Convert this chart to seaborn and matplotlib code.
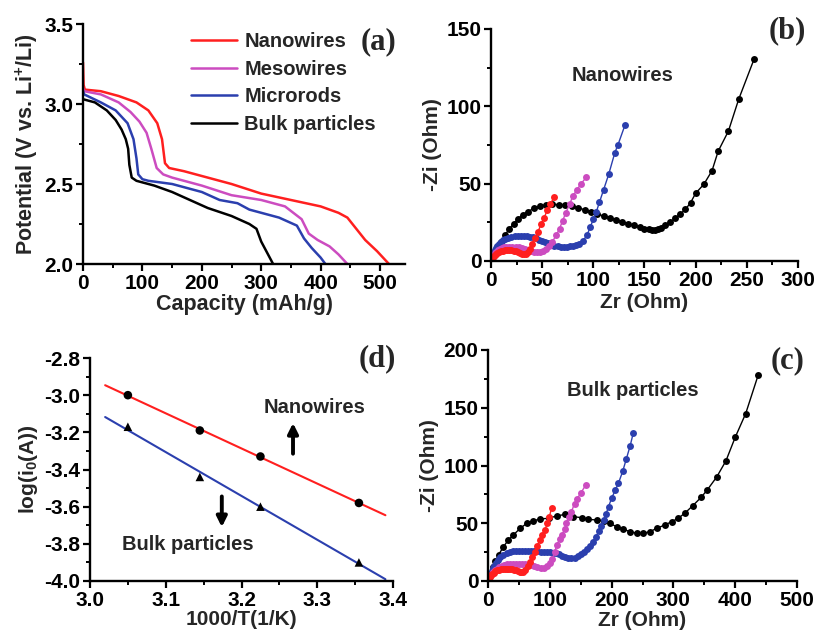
import numpy as np
import pandas as pd
import matplotlib
matplotlib.use("Agg")
import matplotlib.pyplot as plt
import seaborn as sns
from matplotlib.ticker import MultipleLocator

# ---------------- data ----------------
# (a) discharge curves
nano_cap = [0, 1, 3, 30, 60, 90, 110, 125, 133, 138, 145, 170, 200, 250, 300, 350, 400, 430, 445, 460, 475, 495, 515]
nano_v = [3.26, 3.12, 3.09, 3.08, 3.05, 3.01, 2.96, 2.88, 2.78, 2.63, 2.60, 2.58, 2.55, 2.50, 2.44, 2.40, 2.36, 2.32, 2.29, 2.22, 2.15, 2.08, 2.00]
meso_cap = [0, 2, 30, 60, 80, 95, 107, 115, 124, 135, 150, 200, 250, 300, 340, 368, 380, 395, 415, 430, 445]
meso_v = [3.10, 3.08, 3.06, 3.01, 2.95, 2.89, 2.82, 2.72, 2.60, 2.56, 2.54, 2.49, 2.43, 2.40, 2.36, 2.28, 2.19, 2.15, 2.11, 2.06, 2.00]
micro_cap = [0, 2, 30, 55, 75, 85, 90, 93, 100, 110, 150, 200, 230, 260, 280, 330, 360, 372, 385, 400, 408]
micro_v = [3.08, 3.06, 3.01, 2.96, 2.88, 2.78, 2.66, 2.56, 2.53, 2.52, 2.50, 2.45, 2.40, 2.38, 2.34, 2.29, 2.24, 2.16, 2.10, 2.04, 2.00]
bulk_cap = [0, 20, 40, 55, 65, 72, 76, 78, 82, 90, 120, 150, 180, 210, 250, 280, 292, 300, 310, 320]
bulk_v = [3.03, 3.01, 2.96, 2.90, 2.84, 2.78, 2.72, 2.62, 2.54, 2.52, 2.49, 2.45, 2.40, 2.35, 2.30, 2.25, 2.22, 2.14, 2.07, 2.00]
series_a = ["Nanowires", "Mesowires", "Microrods", "Bulk particles"]

# (b) Nyquist, nanowires electrode
b_red_zr = [1, 2, 3, 4, 5, 6, 8, 10, 12, 14, 16, 18, 20, 22, 24, 26, 28, 30, 32, 34, 36, 38, 40, 43, 46, 49, 52, 55, 58, 62]
b_red_zi = [1.5, 2.5, 3.5, 4.2, 4.8, 5.3, 6.0, 6.4, 6.7, 6.9, 7.0, 7.0, 6.9, 6.7, 6.3, 5.8, 5.2, 4.6, 4.3, 4.5, 5.5, 8, 11, 15, 19, 24, 28, 33, 37, 41.5]
b_mag_zr = [1, 2, 3, 4, 5, 7, 9, 11, 13, 15, 18, 21, 24, 27, 30, 33, 36, 39, 42, 45, 48, 51, 54, 57, 60, 64, 67, 70, 73, 77, 80, 84, 88, 93]
b_mag_zi = [1.5, 2.8, 4, 5, 5.8, 7, 7.8, 8.4, 8.8, 9.1, 9.3, 9.3, 9.1, 8.8, 8.4, 7.8, 7.1, 6.5, 6.0, 5.7, 5.8, 6.5, 8, 10, 12.5, 17, 21, 26, 31, 37, 42, 46, 50, 54]
b_blu_zr = [1, 2, 3, 4, 5, 6, 8, 10, 12, 14, 17, 20, 23, 26, 29, 32, 35, 38, 41, 44, 47, 50, 53, 56, 59, 62, 65, 68, 71, 74, 77, 80, 83, 86, 90, 94, 97, 100, 103, 106, 110, 115, 121, 124, 131]
b_blu_zi = [1, 3, 5, 7, 8.5, 9.5, 11, 12.5, 13.5, 14.3, 15, 15.6, 16, 16.2, 16.3, 16.3, 16.1, 15.8, 15.3, 14.6, 13.8, 13, 12.2, 11.4, 10.6, 10, 9.5, 9.2, 9, 9.1, 9.5, 10, 10.5, 11, 13, 17, 22, 27, 32, 38, 46, 56, 70, 75, 88]
b_blk_zr = [1, 4, 7, 10, 14, 18, 22, 26, 31, 36, 42, 48, 54, 60, 66, 72, 79, 85, 92, 98, 104, 110, 116, 122, 128, 134, 140, 146, 150, 154, 157, 160, 163, 166, 170, 175, 180, 185, 190, 195, 200, 208, 216, 222, 232, 242, 257]
b_blk_zi = [1, 5, 9, 12, 17, 21, 24, 27, 30, 32, 34, 35.5, 36.3, 36.6, 36.5, 36, 35.5, 34.5, 33, 31.5, 30.5, 29, 28, 26.5, 25.3, 24.2, 23, 22, 21, 20.4, 20.2, 20.3, 20.8, 21.6, 23, 25, 27.6, 30.4, 33.4, 37.7, 43.8, 49.6, 58.4, 71, 84, 104.5, 130.4]

# (c) Nyquist, bulk particles electrode
c_red_zr = [1, 2, 3, 5, 7, 9, 12, 15, 18, 21, 24, 27, 30, 33, 36, 39, 42, 45, 48, 51, 54, 57, 60, 64, 68, 72, 76, 80, 84, 88, 92, 96, 99, 103]
c_red_zi = [1, 2.3, 3.5, 5, 6.3, 7.3, 8.4, 9.2, 9.8, 10.2, 10.5, 10.6, 10.6, 10.5, 10.3, 10.0, 9.6, 9.1, 8.6, 8.1, 7.8, 8.0, 9.5, 13, 16.7, 21, 25.4, 30, 35.5, 40, 44, 50, 55, 63.5]
c_mag_zr = [1, 2, 4, 6, 8, 11, 14, 18, 22, 26, 30, 35, 40, 45, 50, 55, 60, 65, 70, 75, 80, 85, 90, 95, 100, 104, 108, 111, 116, 120, 124, 127, 131, 135, 140, 144, 150, 158]
c_mag_zi = [1, 2.5, 4.5, 6.2, 7.6, 9.3, 10.6, 12, 13, 13.8, 14.3, 14.7, 14.9, 15, 15, 14.9, 14.6, 14.2, 13.6, 12.8, 11.8, 11.3, 11.6, 13, 15.5, 19, 25, 31, 36, 40, 45, 50, 55, 60, 67, 71, 76, 83]
c_blu_zr = [1, 2, 4, 6, 8, 10, 13, 16, 20, 25, 30, 35, 40, 45, 50, 55, 60, 65, 70, 75, 80, 85, 90, 95, 100, 105, 110, 115, 120, 125, 130, 135, 140, 145, 150, 155, 160, 165, 170, 175, 179, 183, 187, 191, 195, 200, 206, 211, 218, 224, 230, 235]
c_blu_zi = [1, 3, 6, 8.5, 11, 13, 15.5, 18, 20.5, 22.5, 24, 25, 25.6, 26, 26.2, 26.3, 26.3, 26.2, 26, 25.8, 25.6, 25.4, 25.2, 25, 24.8, 24.5, 24, 23, 21.8, 20.5, 19.6, 19.6, 20.2, 21.5, 23, 25, 27.5, 30.5, 34, 38.5, 43, 48, 52.8, 58, 64.3, 71.6, 78.8, 84.6, 95, 106, 117, 128]
c_blk_zr = [1, 4, 8, 12, 17, 25, 33, 41, 52, 63, 73, 84, 98, 111, 125, 138, 152, 162, 176, 187, 197, 208, 219, 230, 241, 251, 262, 273, 286, 297, 308, 319, 331, 345, 355, 370, 385, 400, 417, 437]
c_blk_zi = [1, 6, 12, 17, 22.5, 29.7, 35.5, 39.8, 45.6, 50, 52, 53.7, 54.3, 56.3, 57.7, 55.7, 54.8, 53.4, 52.8, 52, 50, 47, 44.8, 42.7, 41.3, 41.3, 42.7, 45.6, 48.5, 51.3, 54.3, 59, 65, 72.5, 79, 90, 104, 124.4, 145, 178]

# (d) Arrhenius-type plot
inv_t = [3.05, 3.145, 3.225, 3.355]
log_i0_nano = [-3.00, -3.19, -3.33, -3.58]
log_i0_bulk = [-3.17, -3.44, -3.60, -3.90]
fit_range = [3.02, 3.39]

RED = "#ff1f1f"
MAG = "#cc4cc0"
BLU = "#2b3fae"
BLK = "#000000"

# ---------------- style ----------------
sns.set_theme(style="ticks")
plt.rcParams.update({
    "font.family": ["Liberation Sans", "DejaVu Sans"],
    "font.weight": "bold",
    "axes.labelweight": "bold",
    "mathtext.fontset": "custom",
    "mathtext.rm": "Liberation Sans:bold",
    "mathtext.it": "Liberation Sans:bold",
    "mathtext.bf": "Liberation Sans:bold",
    "mathtext.default": "rm",
    "axes.linewidth": 1.7,
    "xtick.major.width": 1.6, "ytick.major.width": 1.6,
    "xtick.minor.width": 1.4, "ytick.minor.width": 1.4,
    "xtick.major.size": 5, "ytick.major.size": 5,
    "xtick.minor.size": 3, "ytick.minor.size": 3,
    "xtick.direction": "out", "ytick.direction": "out",
    "xtick.color": "black", "ytick.color": "black",
    "axes.edgecolor": "black",
})

W, H = 815, 634
fig = plt.figure(figsize=(W / 100, H / 100), dpi=100)


def px_axes(x0, y0, x1, y1):
    return fig.add_axes([x0 / W, 1 - y1 / H, (x1 - x0) / W, (y1 - y0) / H])


ax_a = px_axes(83, 24, 405, 264)
ax_b = px_axes(491, 29, 798, 261)
ax_d = px_axes(90, 358, 393, 581)
ax_c = px_axes(488, 350, 797, 581)

TICK_FS = 15
LAB_FS = 15

for ax in (ax_a, ax_b, ax_c, ax_d):
    sns.despine(ax=ax)
    ax.tick_params(labelsize=TICK_FS, pad=2)
    ax.tick_params(which="minor", length=3)

# ---- (a)
for cap, v, col, name in [(nano_cap, nano_v, RED, series_a[0]), (meso_cap, meso_v, MAG, series_a[1]),
                          (micro_cap, micro_v, BLU, series_a[2]), (bulk_cap, bulk_v, BLK, series_a[3])]:
    sns.lineplot(x=cap, y=v, ax=ax_a, color=col, lw=1.8, sort=False, estimator=None, label=name)
ax_a.set_xlim(0, 542)
ax_a.set_ylim(2.0, 3.5)
ax_a.xaxis.set_major_locator(MultipleLocator(100))
ax_a.xaxis.set_minor_locator(MultipleLocator(50))
ax_a.yaxis.set_major_locator(MultipleLocator(0.5))
ax_a.yaxis.set_minor_locator(MultipleLocator(0.25))
ax_a.yaxis.set_major_formatter(matplotlib.ticker.FormatStrFormatter("%.1f"))
ax_a.set_xlabel("Capacity (mAh/g)", fontsize=15.5, fontweight="bold", labelpad=1)
ax_a.set_ylabel("Potential (V vs. Li$^{+}$/Li)", fontsize=15.5, fontweight="bold", labelpad=3)
leg = ax_a.legend(loc="upper left", bbox_to_anchor=(0.335, 0.965), frameon=False, fontsize=14.5,
                  handlelength=2.3, handletextpad=0.35, labelspacing=0.42, borderpad=0, borderaxespad=0)
for t in leg.get_texts():
    t.set_fontweight("bold")

# ---- (b)
for zr, zi, col in [(b_blk_zr, b_blk_zi, BLK), (b_blu_zr, b_blu_zi, BLU),
                    (b_mag_zr, b_mag_zi, MAG), (b_red_zr, b_red_zi, RED)]:
    sns.lineplot(x=zr, y=zi, ax=ax_b, color=col, lw=1.0, sort=False, estimator=None,
                 marker="o", markersize=5, markeredgewidth=0, markerfacecolor=col)
ax_b.set_xlim(0, 300)
ax_b.set_ylim(0, 150)
ax_b.xaxis.set_major_locator(MultipleLocator(50))
ax_b.xaxis.set_minor_locator(MultipleLocator(25))
ax_b.yaxis.set_major_locator(MultipleLocator(50))
ax_b.yaxis.set_minor_locator(MultipleLocator(25))
ax_b.set_xlabel("Zr (Ohm)", fontsize=LAB_FS, fontweight="bold", labelpad=2)
ax_b.set_ylabel("-Zi (Ohm)", fontsize=LAB_FS, fontweight="bold", labelpad=3)
ax_b.text(129, 120, "Nanowires", fontsize=14.5, fontweight="bold", ha="center", va="center")

# ---- (c)
for zr, zi, col in [(c_blk_zr, c_blk_zi, BLK), (c_blu_zr, c_blu_zi, BLU),
                    (c_mag_zr, c_mag_zi, MAG), (c_red_zr, c_red_zi, RED)]:
    sns.lineplot(x=zr, y=zi, ax=ax_c, color=col, lw=1.0, sort=False, estimator=None,
                 marker="o", markersize=5, markeredgewidth=0, markerfacecolor=col)
ax_c.set_xlim(0, 500)
ax_c.set_ylim(0, 200)
ax_c.xaxis.set_major_locator(MultipleLocator(100))
ax_c.xaxis.set_minor_locator(MultipleLocator(50))
ax_c.yaxis.set_major_locator(MultipleLocator(50))
ax_c.yaxis.set_minor_locator(MultipleLocator(25))
ax_c.set_xlabel("Zr (Ohm)", fontsize=LAB_FS, fontweight="bold", labelpad=1)
ax_c.set_ylabel("-Zi (Ohm)", fontsize=LAB_FS, fontweight="bold", labelpad=3)
ax_c.text(235, 165, "Bulk particles", fontsize=14.5, fontweight="bold", ha="center", va="center")

# ---- (d)
fx = np.array(fit_range)
for yv, col, mk in [(log_i0_nano, RED, "o"), (log_i0_bulk, BLU, "^")]:
    k, b0 = np.polyfit(inv_t, yv, 1)
    sns.lineplot(x=fx, y=k * fx + b0, ax=ax_d, color=col, lw=1.5)
    sns.scatterplot(x=inv_t, y=yv, ax=ax_d, color="black", marker=mk, s=38, edgecolor="none", zorder=3)
ax_d.set_xlim(3.0, 3.4)
ax_d.set_ylim(-4.0, -2.8)
ax_d.xaxis.set_major_locator(MultipleLocator(0.1))
ax_d.xaxis.set_minor_locator(MultipleLocator(0.05))
ax_d.yaxis.set_major_locator(MultipleLocator(0.2))
ax_d.yaxis.set_minor_locator(MultipleLocator(0.1))
ax_d.xaxis.set_major_formatter(matplotlib.ticker.FormatStrFormatter("%.1f"))
ax_d.yaxis.set_major_formatter(matplotlib.ticker.FormatStrFormatter("%.1f"))
ax_d.set_xlabel("1000/T(1/K)", fontsize=LAB_FS, fontweight="bold", labelpad=0)
ax_d.set_ylabel("log(i$_0$(A))", fontsize=LAB_FS, fontweight="bold", labelpad=3)
ax_d.text(3.297, -3.064, "Nanowires", fontsize=14.5, fontweight="bold", ha="center", va="center")
ax_d.text(3.129, -3.806, "Bulk particles", fontsize=14.5, fontweight="bold", ha="center", va="center")
ax_d.annotate("", xy=(3.268, -3.15), xytext=(3.268, -3.315),
              arrowprops=dict(arrowstyle="-|>", color="black", lw=2.8, mutation_scale=15, shrinkA=0, shrinkB=0))
ax_d.annotate("", xy=(3.174, -3.71), xytext=(3.174, -3.545),
              arrowprops=dict(arrowstyle="-|>", color="black", lw=2.8, mutation_scale=15, shrinkA=0, shrinkB=0))

for ax in (ax_a, ax_b, ax_c, ax_d):
    for lab in ax.get_xticklabels() + ax.get_yticklabels():
        lab.set_fontweight("bold")

# panel letters
for (x, y, s) in [(379, 42, "(a)"), (787, 31, "(b)"), (377, 359, "(d)"), (788, 361, "(c)")]:
    fig.text(x / W, 1 - y / H, s, fontsize=22, fontweight="bold", ha="center", va="center",
             family=["Liberation Serif", "DejaVu Serif"])

fig.savefig("out.png", dpi=100)
